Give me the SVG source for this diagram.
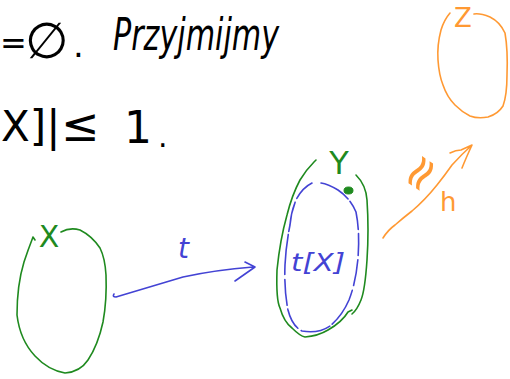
<svg xmlns="http://www.w3.org/2000/svg" width="510" height="379" viewBox="0 0 510 379">
  <style>
    .ink { fill: none; stroke-linecap: round; stroke-linejoin: round; stroke-width: 1.6; }
    .green { stroke: #1f8a1f; }
    .blue { stroke: #4343d4; }
    .orange { stroke: #ff9933; }
    .hand { font-family: "DejaVu Sans", "Liberation Sans", sans-serif; }
    .black { fill: #000; }
    .tg { fill: #1f8a1f; }
    .tb { fill: #4343d4; }
    .to { fill: #ff9933; }
  </style>
  <rect width="510" height="379" fill="#fff"/>

  <!-- handwritten formula lines -->
  <g id="notes" class="hand black">
    <text y="54" font-size="32"><tspan x="0">=</tspan><tspan x="25" y="58" font-size="50">∅</tspan><tspan x="73" y="57" font-size="34">.</tspan></text>
    <text x="113" y="50" font-size="44" textLength="166" lengthAdjust="spacingAndGlyphs" font-style="italic">Przyjmijmy</text>
    <text y="141" font-size="42"><tspan x="1">X]|</tspan><tspan x="61" font-size="46">≤</tspan><tspan x="124" y="143" font-size="44">1</tspan><tspan x="158" y="147" font-size="30">.</tspan></text>
  </g>

  <!-- set X -->
  <g id="node-X">
    <path class="ink green" d="M35,240 L33,237 Q28,250 24,262 Q17,285 17,315 Q20,340 35,356 Q48,370 65,373 Q80,372 88,360 Q98,345 103,322 Q107,300 106,275 Q105,258 100,248 Q92,236 80,230 Q70,227 61,232"/>
    <text class="hand tg" x="49" y="247" font-size="30" text-anchor="middle">X</text>
  </g>

  <!-- set Y with image t[X] -->
  <g id="node-Y">
    <path class="ink green" d="M316,160 L314,162 Q306,170 300,180 Q292,195 287,215 Q280,240 277,270 Q276,300 280,308 Q284,322 292,328 Q300,336 305,337 Q318,336 328,330 Q342,322 348,312 L352,310"/>
    <path class="ink green" d="M356,175 Q366,185 367,200 Q369,230 367,260 Q365,290 361,300 Q357,310 352,314"/>
    <text class="hand tg" x="339" y="174" font-size="32" text-anchor="middle">Y</text>
    <ellipse cx="348.5" cy="190.5" rx="4.5" ry="3.5" fill="#1f8a1f" stroke="#1f8a1f" stroke-width="1"/>
    <path class="ink blue" stroke-dasharray="22 4 30 3 40 5 26 4" d="M312,183 Q302,188 296,200 Q291,212 290,225 Q286,245 285,265 Q284,290 288,310 Q292,326 302,331 Q318,334 330,326 Q342,316 349,300 Q356,282 358,258 Q360,232 356,212 Q350,198 338,190 Q328,184 321,183"/>
    <text class="hand tb" x="291" y="271" font-size="24" font-style="italic" textLength="54" lengthAdjust="spacingAndGlyphs">t[X]</text>
  </g>

  <!-- set Z -->
  <g id="node-Z">
    <path class="ink orange" d="M450,13 Q444,20 441,30 Q437,45 438,60 Q439,75 443,85 Q447,97 455,105 Q462,112 470,116 Q478,119 488,117 Q498,114 503,106 Q507,95 507,75 Q508,50 505,33 Q500,22 490,17 Q480,13 474,14"/>
    <text class="hand to" x="463" y="27" font-size="26" text-anchor="middle">Z</text>
  </g>

  <!-- maps t and h -->
  <g id="connectors">
    <g id="edge-t">
      <path class="ink blue" d="M114,294 Q112,297 116,297 Q150,287 183,277 Q215,270 253,267 M245,262 L255,267 L235,281"/>
      <text class="hand tb" x="178" y="258" font-size="28" font-style="italic">t</text>
    </g>
    <g id="edge-h">
      <path class="ink orange" d="M383,238 Q388,230 395,225 Q403,218 412,211 Q425,200 437,185 Q445,175 452,165 Q462,154 472,145 M450,153 Q456,150 461,150 L472,145 Q466,158 462,168"/>
      <text class="hand to" x="0" y="0" font-size="48" transform="translate(420,173) rotate(-56)" text-anchor="middle" dy="16">≈</text>
      <text class="hand to" x="440" y="211" font-size="26">h</text>
    </g>
  </g>
</svg>
